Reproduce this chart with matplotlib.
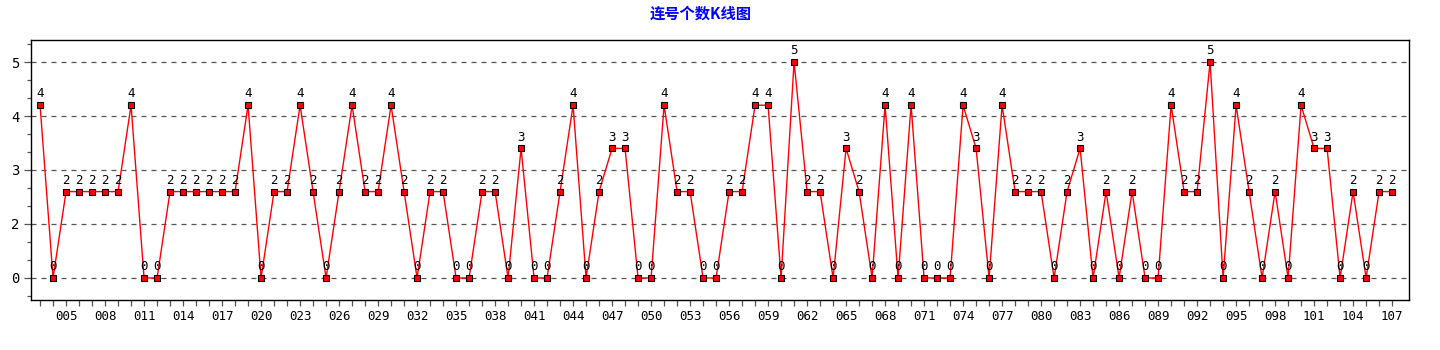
import matplotlib
matplotlib.use("Agg")
import matplotlib.pyplot as plt
from matplotlib.ticker import FixedLocator, MultipleLocator

# Consecutive-number counts per draw, draws 003 .. 107
periods = list(range(3, 108))
counts = [
    4, 0, 2, 2, 2, 2, 2, 4, 0, 0,          # 003-012
    2, 2, 2, 2, 2, 2, 4, 0, 2, 2,          # 013-022
    4, 2, 0, 2, 4, 2, 2, 4, 2, 0,          # 023-032
    2, 2, 0, 0, 2, 2, 0, 3, 0, 0,          # 033-042
    2, 4, 0, 2, 3, 3, 0, 0, 4, 2,          # 043-052
    2, 0, 0, 2, 2, 4, 4, 0, 5, 2,          # 053-062
    2, 0, 3, 2, 0, 4, 0, 4, 0, 0,          # 063-072
    0, 4, 3, 0, 4, 2, 2, 2, 0, 2,          # 073-082
    3, 0, 2, 0, 2, 0, 0, 4, 2, 2,          # 083-092
    5, 0, 4, 2, 0, 2, 0, 4, 3, 3,          # 093-102
    0, 2, 0, 2, 2,                         # 103-107
]
x_label_periods = list(range(5, 108, 3))
y_grid_values = [0, 1.25, 2.5, 3.75, 5]
y_grid_labels = ["0", "2", "3", "4", "5"]
title_text = "连号个数K线图"

mono = ["DejaVu Sans Mono"]

fig = plt.figure(figsize=(14.4, 3.5), dpi=100)
ax = fig.add_axes([30.7 / 1440, 1 - 300 / 350, (1409 - 30.7) / 1440, 260 / 350])

ax.plot(periods, counts, color="#ff0000", lw=1.0, zorder=3,
        marker="s", markersize=4.0, markerfacecolor="#ff0000",
        markeredgecolor="black", markeredgewidth=0.8)

for p, c in zip(periods, counts):
    ax.annotate(str(c), (p, c), xytext=(0, 3.5), textcoords="offset points",
                ha="center", va="bottom", fontsize=9, family=mono,
                color="black", zorder=4)

ax.set_xlim(2.28, 108.3)
ax.set_ylim(-0.51, 5.51)

# grid on the labelled levels
for v in y_grid_values:
    ax.axhline(v, color="#555555", lw=0.9, ls=(0, (4, 4)), zorder=1)

ax.yaxis.set_major_locator(FixedLocator(y_grid_values))
ax.set_yticklabels(y_grid_labels, family=mono, fontsize=10)
ax.yaxis.set_minor_locator(MultipleLocator(1.25 / 3))
ax.tick_params(axis="y", which="major", length=5, width=0.9, color="#555555", pad=3)
ax.tick_params(axis="y", which="minor", length=3, width=0.9, color="#555555")

ax.xaxis.set_major_locator(FixedLocator(x_label_periods))
ax.set_xticklabels([f"{p:03d}" for p in x_label_periods], family=mono, fontsize=9)
ax.xaxis.set_minor_locator(FixedLocator(periods))
ax.tick_params(axis="x", which="both", length=4, width=0.9, color="#555555", pad=3)

for s in ax.spines.values():
    s.set_color("black")
    s.set_linewidth(1.0)

fig.text(701 / 1440, 1 - 14 / 350, title_text, ha="center", va="center",
         fontsize=11, fontweight="bold", color="#0000ff",
         family=["Noto Sans CJK SC", "DejaVu Sans"])

fig.savefig("out.png", dpi=100, facecolor="white")
